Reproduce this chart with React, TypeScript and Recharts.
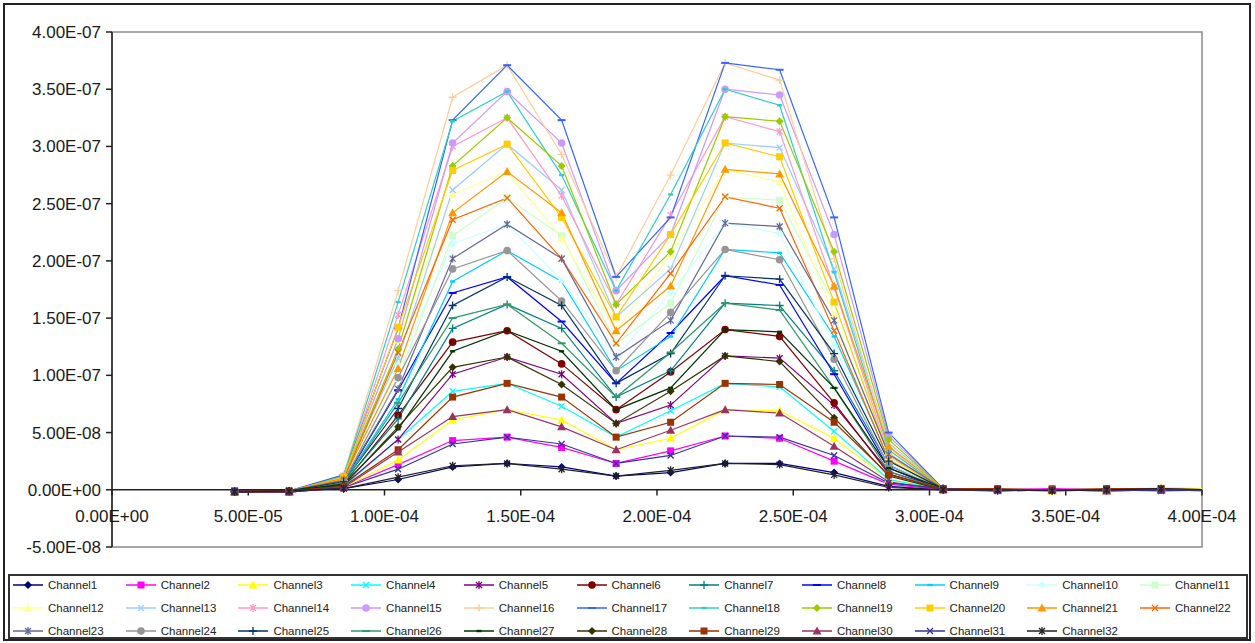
import React from 'react';
import { LineChart, Line, XAxis, YAxis, ReferenceLine, ReferenceArea } from 'recharts';

const FONT = '"Liberation Sans", Arial, sans-serif';

// sample positions (seconds)
const xValues = [
  4.5e-5, 6.5e-5, 8.5e-5, 1.05e-4, 1.25e-4, 1.45e-4, 1.65e-4, 1.85e-4, 2.05e-4, 2.25e-4,
  2.45e-4, 2.65e-4, 2.85e-4, 3.05e-4, 3.25e-4, 3.45e-4, 3.65e-4, 3.85e-4, 4.05e-4,
];

const xTicks = [0, 5e-5, 1e-4, 1.5e-4, 2e-4, 2.5e-4, 3e-4, 3.5e-4, 4e-4];
const yTicks = [-5e-8, 0, 5e-8, 1e-7, 1.5e-7, 2e-7, 2.5e-7, 3e-7, 3.5e-7, 4e-7];

// channel readings, in units of 1e-9
const channel1 = [-2, -1, 1, 9, 20, 23, 20, 12, 15, 23, 23, 15, 3, 0, -1, 0, -1, 0, -1];
const channel2 = [-2, -2, 2, 22, 43, 46, 37, 23, 34, 47, 45, 25, 5, 0, 0, 1, 0, 0, -1];
const channel3 = [-2, -1, 2, 26, 61, 70, 61, 35, 45, 70, 69, 45, 9, 1, 0, -1, 0, 2, 1];
const channel4 = [-2, -2, 3, 44, 86, 93, 73, 46, 69, 93, 90, 51, 9, 0, 0, 0, 0, 0, 0];
const channel5 = [-2, -1, 4, 44, 101, 116, 101, 58, 74, 117, 115, 74, 16, 1, 0, 0, 0, 0, 0];
const channel6 = [-2, -2, 5, 65, 129, 139, 110, 70, 103, 140, 134, 76, 14, 0, 0, 0, 0, 0, 0];
const channel7 = [-2, -1, 6, 62, 141, 162, 141, 81, 104, 163, 161, 104, 22, 1, 0, 0, 0, 0, 0];
const channel8 = [-2, -2, 7, 87, 172, 186, 147, 93, 137, 187, 179, 101, 19, 0, 0, 0, 0, 0, 0];
const channel9 = [-2, -1, 7, 79, 182, 209, 182, 104, 134, 210, 207, 134, 28, 1, 0, 0, 0, 0, 0];
const channel10 = [-2, -2, 8, 109, 215, 232, 183, 116, 172, 233, 224, 126, 23, 0, 0, 0, 0, 0, 0];
const channel11 = [-2, -1, 9, 97, 222, 255, 222, 128, 163, 256, 253, 163, 34, 1, 0, 0, 0, 0, 0];
const channel12 = [-2, -2, 10, 131, 258, 278, 220, 139, 206, 280, 269, 152, 28, 0, 0, 0, 0, 0, 0];
const channel13 = [-2, -1, 11, 115, 262, 302, 262, 151, 193, 303, 299, 193, 41, 1, 0, 0, 0, 0, 0];
const channel14 = [-2, -2, 11, 153, 300, 325, 257, 162, 240, 326, 313, 177, 32, 0, 0, 0, 0, 0, 0];
const channel15 = [-2, -1, 12, 132, 303, 348, 303, 174, 223, 350, 345, 223, 47, 1, 0, 0, 0, 0, 0];
const channel16 = [-2, -2, 13, 174, 343, 371, 293, 186, 275, 373, 358, 202, 37, 0, 0, 0, 0, 0, 0];
const channel17 = [-1, -1, 13, 141, 323, 371, 323, 186, 238, 373, 367, 238, 50, 1, 0, 0, 0, 0, 0];
const channel18 = [-2, -2, 12, 164, 322, 348, 275, 174, 258, 350, 336, 190, 35, 0, 0, 0, 0, 0, 0];
const channel19 = [-1, -1, 11, 123, 283, 325, 283, 162, 208, 326, 322, 208, 44, 1, 0, 0, 0, 0, 0];
const channel20 = [-2, -2, 11, 142, 279, 302, 238, 151, 223, 303, 291, 164, 30, 0, 0, 0, 0, 0, 0];
const channel21 = [-1, -1, 10, 106, 242, 278, 242, 139, 178, 280, 276, 178, 38, 1, 0, 0, 0, 0, 0];
const channel22 = [-2, -2, 9, 120, 236, 255, 202, 128, 189, 256, 246, 139, 26, 0, 0, 0, 0, 0, 0];
const channel23 = [-1, -1, 8, 88, 202, 232, 202, 116, 148, 233, 230, 148, 31, 1, 0, 0, 0, 0, 0];
const channel24 = [-2, -2, 7, 98, 193, 209, 165, 104, 155, 210, 201, 114, 21, 0, 0, 0, 0, 0, 0];
const channel25 = [-1, -1, 7, 71, 161, 186, 161, 93, 119, 187, 184, 119, 25, 1, 0, 0, 0, 0, 0];
const channel26 = [-2, -2, 6, 76, 150, 162, 128, 81, 120, 163, 157, 89, 16, 0, 0, 0, 0, 0, 0];
const channel27 = [-1, -1, 5, 53, 121, 139, 121, 70, 89, 140, 138, 89, 19, 1, 0, 0, 0, 0, 0];
const channel28 = [-2, -2, 4, 55, 107, 116, 92, 58, 86, 117, 112, 63, 12, 0, 0, 0, 0, 0, 0];
const channel29 = [-1, -1, 3, 35, 81, 93, 81, 46, 59, 93, 92, 59, 13, 1, 1, 0, 1, 1, 0];
const channel30 = [-2, -2, 2, 33, 64, 70, 55, 35, 52, 70, 67, 38, 7, 0, 0, 0, -1, 0, 0];
const channel31 = [-1, -2, 2, 18, 40, 46, 40, 23, 30, 47, 46, 30, 6, 1, -1, 0, 0, -1, 0];
const channel32 = [-2, -1, 1, 11, 21, 23, 18, 12, 17, 23, 22, 13, 2, 0, 0, -1, 0, 1, 0];

const channelValues = [
  channel1, channel2, channel3, channel4, channel5, channel6, channel7, channel8,
  channel9, channel10, channel11, channel12, channel13, channel14, channel15, channel16,
  channel17, channel18, channel19, channel20, channel21, channel22, channel23, channel24,
  channel25, channel26, channel27, channel28, channel29, channel30, channel31, channel32,
];

const channelColors = [
  '#000080', '#FF00FF', '#FFFF00', '#00FFFF', '#800080', '#800000', '#008080', '#0000FF',
  '#00CCFF', '#CCFFFF', '#CCFFCC', '#FFFF99', '#99CCFF', '#FF99CC', '#CC99FF', '#FFCC99',
  '#3366FF', '#33CCCC', '#99CC00', '#FFCC00', '#FF9900', '#FF6600', '#666699', '#969696',
  '#003366', '#339966', '#003300', '#333300', '#993300', '#993366', '#333399', '#222222',
];

const channelMarkers = [
  'diamond', 'square', 'triangle', 'x', 'star', 'circle', 'plus', 'dash', 'dot',
  'diamond', 'square', 'triangle', 'x', 'star', 'circle', 'plus', 'dash', 'dot',
  'diamond', 'square', 'triangle', 'x', 'star', 'circle', 'plus', 'dash', 'dot',
  'diamond', 'square', 'triangle', 'x', 'star',
];

const channelNames = channelValues.map((_, i) => `Channel${i + 1}`);

const data = xValues.map((x, i) => {
  const row: Record<string, number> = { x };
  channelValues.forEach((vals, c) => {
    row[channelNames[c]] = vals[i] * 1e-9;
  });
  return row;
});

function fmtExp(v: number) {
  if (Math.abs(v) < 1e-20) return '0.00E+00';
  const [m, e] = v.toExponential(2).split('e');
  const n = Number(e);
  return `${m}E${n < 0 ? '-' : '+'}${String(Math.abs(n)).padStart(2, '0')}`;
}

function Marker({ shape, cx, cy, color }: { shape: string; cx: number; cy: number; color: string }) {
  switch (shape) {
    case 'diamond':
      return <polygon points={`${cx},${cy - 4} ${cx + 4},${cy} ${cx},${cy + 4} ${cx - 4},${cy}`} fill={color} />;
    case 'square':
      return <rect x={cx - 3.5} y={cy - 3.5} width={7} height={7} fill={color} />;
    case 'triangle':
      return <polygon points={`${cx},${cy - 4.5} ${cx + 4.5},${cy + 3.5} ${cx - 4.5},${cy + 3.5}`} fill={color} />;
    case 'x':
      return (
        <path d={`M${cx - 3},${cy - 3}L${cx + 3},${cy + 3}M${cx + 3},${cy - 3}L${cx - 3},${cy + 3}`} stroke={color} strokeWidth={1.3} fill="none" />
      );
    case 'star':
      return (
        <path
          d={`M${cx - 3},${cy - 3}L${cx + 3},${cy + 3}M${cx + 3},${cy - 3}L${cx - 3},${cy + 3}M${cx},${cy - 4}L${cx},${cy + 4}`}
          stroke={color}
          strokeWidth={1.3}
          fill="none"
        />
      );
    case 'circle':
      return <circle cx={cx} cy={cy} r={3.8} fill={color} />;
    case 'plus':
      return <path d={`M${cx - 4},${cy}L${cx + 4},${cy}M${cx},${cy - 4}L${cx},${cy + 4}`} stroke={color} strokeWidth={1.3} fill="none" />;
    case 'dash':
      return <path d={`M${cx - 4},${cy}L${cx + 4},${cy}`} stroke={color} strokeWidth={2} fill="none" />;
    default:
      return <rect x={cx - 2.5} y={cy - 1.2} width={5} height={2.4} fill={color} />;
  }
}

const XTick = ({ x, y, payload }: any) => (
  <text x={x} y={y - 31} textAnchor="middle" dominantBaseline="central" fontSize={17} fill="#1a1a1a" fontFamily={FONT}>
    {fmtExp(payload.value)}
  </text>
);

function LegendBox() {
  return (
    <div
      style={{
        position: 'absolute',
        left: 8,
        top: 574,
        width: 1240,
        height: 65,
        border: '2px solid #333',
        boxSizing: 'border-box',
        fontFamily: FONT,
      }}
    >
      {channelNames.map((name, i) => {
        const row = Math.floor(i / 11);
        const col = i % 11;
        const color = channelColors[i];
        return (
          <div
            key={name}
            style={{ position: 'absolute', left: 2 + col * 112.7, top: row * 23, height: 18, display: 'flex', alignItems: 'center' }}
          >
            <svg width={32} height={12} style={{ display: 'block' }}>
              <line x1={1} y1={6} x2={31} y2={6} stroke={color} strokeWidth={1.5} />
              <Marker shape={channelMarkers[i]} cx={16} cy={6} color={color} />
            </svg>
            <span style={{ marginLeft: 4, fontSize: 11.5, color: '#222', whiteSpace: 'nowrap' }}>{name}</span>
          </div>
        );
      })}
    </div>
  );
}

export default function App() {
  return (
    <div style={{ position: 'absolute', left: 0, top: 0, width: 1255, height: 643, background: '#fff' }}>
      <div
        style={{
          position: 'absolute',
          left: 3,
          top: 3,
          width: 1248,
          height: 638,
          border: '2px solid #222',
          boxSizing: 'border-box',
        }}
      />
      <LineChart width={1255} height={643} data={data} margin={{ top: 32, right: 53, bottom: 0, left: 0 }} style={{ position: 'absolute', left: 0, top: 0 }}>
        <ReferenceArea x1={0} x2={4e-4} y1={-5e-8} y2={4e-7} fill="none" stroke="#8c8c8c" strokeWidth={1.5} />
        <XAxis
          dataKey="x"
          type="number"
          domain={[0, 4e-4]}
          allowDataOverflow
          ticks={xTicks}
          interval={0}
          height={96}
          axisLine={false}
          tickLine={false}
          tickSize={0}
          tickMargin={0}
          tick={<XTick />}
        />
        <YAxis
          type="number"
          domain={[-5e-8, 4e-7]}
          ticks={yTicks}
          interval={0}
          width={112}
          tickSize={6}
          tickMargin={5}
          tickFormatter={fmtExp}
          axisLine={{ stroke: '#222', strokeWidth: 1.5 }}
          tickLine={{ stroke: '#222', strokeWidth: 1.5 }}
          tick={{ fontSize: 17, fill: '#1a1a1a', fontFamily: FONT }}
        />
        <ReferenceLine y={0} stroke="#222" strokeWidth={1.5} />
        {xTicks.map((t) => (
          <ReferenceLine
            key={`xt-${t}`}
            segment={[
              { x: t, y: 0 },
              { x: t, y: -5e-9 },
            ]}
            stroke="#222"
            strokeWidth={1.5}
          />
        ))}
        {channelNames.map((name, c) => (
          <Line
            key={name}
            dataKey={name}
            type="linear"
            stroke={channelColors[c]}
            strokeWidth={1.2}
            isAnimationActive={false}
            activeDot={false}
            dot={(p: any) => {
              if (p.cx == null || p.cy == null) return <g key={`d-${name}-${p.index}`} />;
              return <Marker key={`d-${name}-${p.index}`} shape={channelMarkers[c]} cx={p.cx} cy={p.cy} color={channelColors[c]} />;
            }}
          />
        ))}
      </LineChart>
      <LegendBox />
    </div>
  );
}
